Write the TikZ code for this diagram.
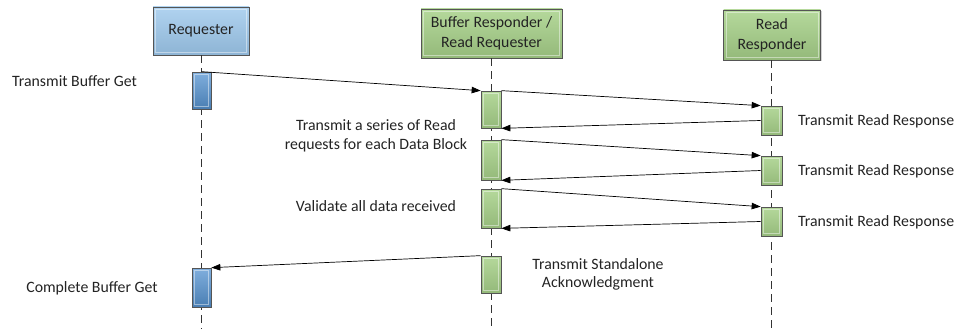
\documentclass[tikz,border=0pt]{standalone}
\usepackage{fontspec}
\setmainfont{Carlito}
\usetikzlibrary{arrows.meta,shadows}
\definecolor{reqblue}{RGB}{157,200,236}
\definecolor{actblue}{RGB}{86,148,210}
\definecolor{grn}{RGB}{168,210,138}
\definecolor{bord}{RGB}{85,85,85}
\definecolor{txt}{RGB}{35,35,35}
\tikzset{
  bevel/.style={draw=bord, line width=0.7pt, inner sep=0pt,
    drop shadow={shadow xshift=1.2pt, shadow yshift=-1.2pt, opacity=0.35},
    path picture={\draw[white,opacity=0.45,line width=0.7pt]
      ([shift={(2.5pt,2.5pt)}]path picture bounding box.south west) rectangle
      ([shift={(-2.5pt,-2.5pt)}]path picture bounding box.north east);}},
  headbox/.style={bevel, align=center, font=\fontsize{15.8}{20}\selectfont, text=txt},
  bluehead/.style={headbox, top color=reqblue!80!white, bottom color=reqblue!90!black},
  greenhead/.style={headbox, top color=grn!85!white, bottom color=grn!88!black},
  act/.style={bevel, minimum width=20pt},
  blueact/.style={act, top color=actblue!75!white, bottom color=actblue!85!black},
  greenact/.style={act, top color=grn!85!white, bottom color=grn!88!black},
  lifeline/.style={draw=black!80, line width=1pt, dash pattern=on 8pt off 5pt},
  msg/.style={draw=black, line width=0.7pt, -{Triangle[length=9pt,width=6.5pt]}},
  lbl/.style={font=\fontsize{15.8}{19}\selectfont, text=txt, inner sep=0pt, align=center}
}
\begin{document}
\begin{tikzpicture}[x=1pt,y=-1pt]
\useasboundingbox (0,0) rectangle (958,329);
% headers
\node[bluehead, minimum width=96pt, minimum height=48pt] (req) at (201,31) {Requester};
\node[greenhead, minimum width=141pt, minimum height=49pt] (buf) at (491.5,33.5) {Buffer Responder /\\Read Requester};
\node[greenhead, minimum width=97pt, minimum height=50pt] (rd) at (772,35) {Read\\Responder};
% lifeline ends
\coordinate (reqend) at (201.5,329);
\coordinate (bufend) at (491,329);
\coordinate (rdend) at (771.5,329);
\draw[lifeline] (req.south -| reqend) -- (reqend);
\draw[lifeline] (buf.south -| bufend) -- (bufend);
\draw[lifeline] (rd.south -| rdend) -- (rdend);
% activations
\node[blueact, minimum width=19pt, minimum height=37pt] (q1) at (201.5,90.5) {};
\node[blueact, minimum width=19pt, minimum height=39pt] (q2) at (201.5,287.5) {};
\node[greenact, minimum height=37pt] (b1) at (491,109.5) {};
\node[greenact, minimum height=40pt] (b2) at (491,160) {};
\node[greenact, minimum height=39pt] (b3) at (491,208.5) {};
\node[greenact, minimum height=37pt] (b4) at (491,274.5) {};
\node[greenact, minimum width=21pt, minimum height=29pt] (r1) at (771.5,120.5) {};
\node[greenact, minimum width=21pt, minimum height=29pt] (r2) at (771.5,170.5) {};
\node[greenact, minimum width=21pt, minimum height=29pt] (r3) at (771.5,221.5) {};
% messages
\draw[msg] (q1.north) -- (b1.north west);
\draw[msg] (b1.north east) -- (r1.north west);
\draw[msg] (r1.west) -- (b1.south east);
\draw[msg] (b2.north east) -- (r2.north west);
\draw[msg] (r2.west) -- (b2.south east);
\draw[msg] (b3.north east) -- (r3.north west);
\draw[msg] (r3.west) -- (b3.south east);
\draw[msg] (b4.north west) -- (q2.north east);
% labels
\node[lbl, anchor=west] (t1) at (12,81) {Transmit Buffer Get};
\node[lbl] (t2) at (376,135.5) {Transmit a series of Read\\requests for each Data Block};
\node[lbl] (t3) at (376,206) {Validate all data received};
\node[lbl, font=\fontsize{15.8}{17.5}\selectfont] (t4) at (598,274.5) {Transmit Standalone\\Acknowledgment};
\node[lbl] (t5) at (92,288) {Complete Buffer Get};
\node[lbl, anchor=west] (t6) at (798,121) {Transmit Read Response};
\node[lbl, anchor=west] (t7) at (798,171) {Transmit Read Response};
\node[lbl, anchor=west] (t8) at (798,222) {Transmit Read Response};
\end{tikzpicture}
\end{document}
